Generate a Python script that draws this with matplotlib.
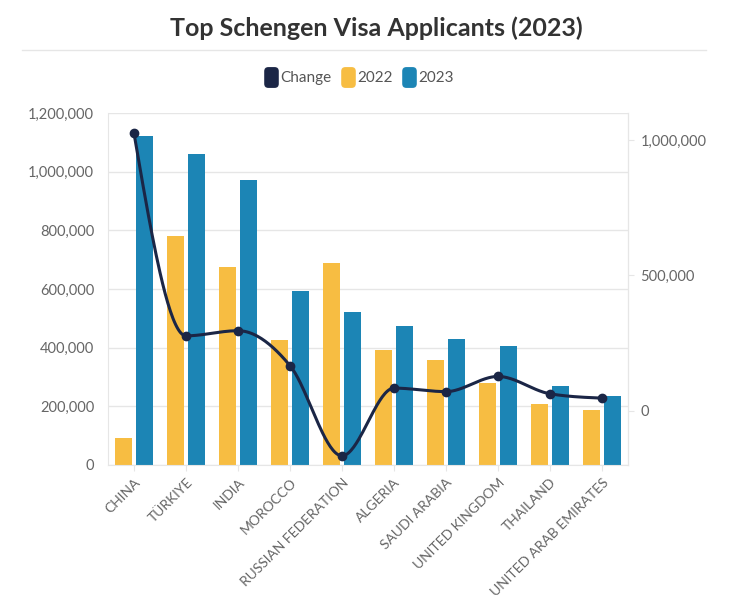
import numpy as np
import matplotlib
matplotlib.use("Agg")
import matplotlib.pyplot as plt
from matplotlib.lines import Line2D
from matplotlib.patches import FancyBboxPatch
from matplotlib.ticker import FuncFormatter, FixedLocator

categories = ["CHINA", "TÜRKIYE", "INDIA", "MOROCCO", "RUSSIAN FEDERATION",
              "ALGERIA", "SAUDI ARABIA", "UNITED KINGDOM", "THAILAND",
              "UNITED ARAB EMIRATES"]
values_2022 = [91000, 780000, 675000, 425000, 690000, 393000, 359000, 281000, 209000, 188000]
values_2023 = [1120000, 1059000, 970000, 592000, 522000, 474000, 431000, 406000, 271000, 234000]
change = [1025000, 277000, 296000, 167000, -166000, 84000, 71000, 127000, 63000, 47000]

C22 = "#F7BD42"
C23 = "#1C85B5"
CCH = "#1B2646"
GRID = "#E6E6E6"
TXT = "#666666"

plt.rcParams['font.family'] = ['Lato', 'DejaVu Sans']

fig = plt.figure(figsize=(7.52, 6.0), dpi=100)
ax = fig.add_axes([108/752, 1-465/600, 520/752, 352/600])

x = np.arange(len(categories))
w = 0.34
ax.bar(x - 0.2, values_2022, width=w, color=C22, zorder=2)
ax.bar(x + 0.2, values_2023, width=w, color=C23, zorder=2)
ax.set_xlim(-0.5, len(categories) - 0.5)
ax.set_ylim(0, 1200000)
ax.yaxis.set_major_locator(FixedLocator(np.arange(0, 1200001, 200000)))
fmt = FuncFormatter(lambda v, p: f"{int(v):,}")
ax.yaxis.set_major_formatter(fmt)
ax.grid(axis='y', color=GRID, linewidth=1, zorder=0)
ax.set_axisbelow(True)
for s in ['top']:
    ax.spines[s].set_visible(False)
for s in ['left', 'right', 'bottom']:
    ax.spines[s].set_color(GRID)
ax.tick_params(axis='y', length=0, labelsize=10.5, labelcolor=TXT, pad=10)
ax.set_xticks(x)
ax.set_xticklabels(categories, rotation=45, ha='right', rotation_mode='anchor')
ax.tick_params(axis='x', length=4, color=GRID, labelsize=10, labelcolor=TXT, pad=4)

# smooth monotone curve for the Change series
def monotone_curve(xs, ys, n=40):
    xs = np.asarray(xs, float); ys = np.asarray(ys, float)
    h = np.diff(xs); d = np.diff(ys) / h
    m = np.zeros_like(ys)
    for k in range(1, len(ys) - 1):
        if d[k-1] * d[k] <= 0:
            m[k] = 0.0
        else:
            h0, h1 = h[k-1], h[k]
            p = (d[k-1] * h1 + d[k] * h0) / (h0 + h1)
            m[k] = (np.sign(d[k-1]) + np.sign(d[k])) * min(abs(d[k-1]), abs(d[k]), 0.5 * abs(p))
    m[0] = (3 * d[0] - m[1]) / 2
    m[-1] = (3 * d[-1] - m[-2]) / 2
    X, Y = [], []
    for k in range(len(ys) - 1):
        t = np.linspace(0, 1, n, endpoint=(k == len(ys) - 2))
        hk = h[k]
        h00 = 2*t**3 - 3*t**2 + 1; h10 = t**3 - 2*t**2 + t
        h01 = -2*t**3 + 3*t**2; h11 = t**3 - t**2
        X.append(xs[k] + t * hk)
        Y.append(h00*ys[k] + h10*hk*m[k] + h01*ys[k+1] + h11*hk*m[k+1])
    return np.concatenate(X), np.concatenate(Y)

ax2 = ax.twinx()
ax2.set_ylim(-200000, 1100000)
ax2.yaxis.set_major_locator(FixedLocator([0, 500000, 1000000]))
ax2.yaxis.set_major_formatter(fmt)
ax2.tick_params(axis='y', length=4, color=GRID, labelsize=10.5, labelcolor=TXT, pad=5)
for s in ['top', 'left', 'bottom']:
    ax2.spines[s].set_visible(False)
ax2.spines['right'].set_color(GRID)
cx, cy = monotone_curve(x, change)
ax2.plot(cx, cy, color=CCH, linewidth=2.2, zorder=5)
ax2.plot(x, change, 'o', color=CCH, markersize=6, zorder=6)

# title and separator
fig.text(0.5, 1-28/600, "Top Schengen Visa Applicants (2023)", ha='center', va='center',
         fontsize=18, fontweight='bold', color="#333333")
fig.add_artist(Line2D([22/752, 706/752], [1-50/600, 1-50/600], color=GRID, linewidth=1))

# legend with rounded-rectangle markers
rr = FancyBboxPatch((-0.35, -0.5), 0.7, 1.0, boxstyle="round,pad=0,rounding_size=0.2").get_path()
handles = [Line2D([], [], marker=rr, linestyle='none', markersize=15, color=c, markeredgewidth=0)
           for c in (CCH, C22, C23)]
fig.legend(handles, ["Change", "2022", "2023"], loc='center', bbox_to_anchor=(360/752, 1-78/600),
           ncol=3, frameon=False, fontsize=11, handlelength=0.6, handletextpad=0.3,
           columnspacing=0.8, labelcolor="#555555")

fig.savefig("out.png", dpi=100, facecolor='white')
